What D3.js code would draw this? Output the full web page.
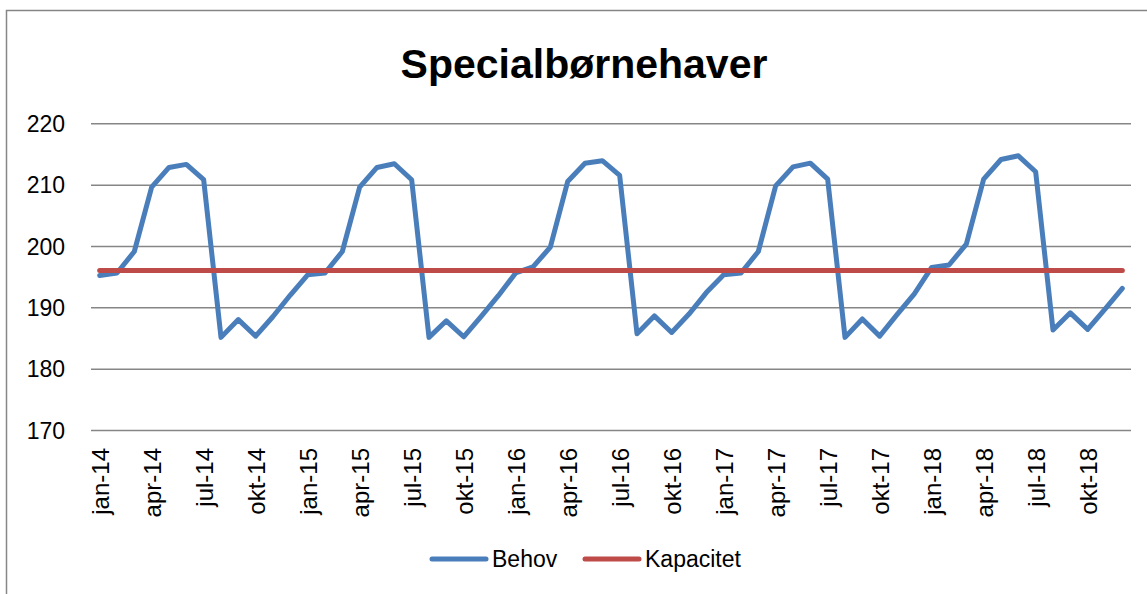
<!DOCTYPE html>
<html>
<head>
<meta charset="utf-8">
<script src="https://cdn.jsdelivr.net/npm/d3@7"></script>
<style>
  body { margin: 0; background: #fff; }
  svg text { font-family: "Liberation Sans", Arial, sans-serif; fill: #000; }
</style>
</head>
<body>
<div id="container"></div>
<script>
// ---------------------------- DATA ----------------------------//
const monthNames = ["jan", "feb", "mar", "apr", "maj", "jun", "jul", "aug", "sep", "okt", "nov", "dec"];
const years = ["14", "15", "16", "17", "18"];
const months = [];
years.forEach(function (y) {
    monthNames.forEach(function (m) { months.push(m + "-" + y); });
});

const behov = [
    195.2, 195.6, 199.1, 209.6, 212.8, 213.3, 210.8, 185.1, 188.0, 185.3, 188.5, 192.0,
    195.3, 195.6, 199.1, 209.6, 212.8, 213.4, 210.8, 185.1, 187.8, 185.2, 188.5, 191.9,
    195.6, 196.6, 199.8, 210.5, 213.5, 213.9, 211.5, 185.7, 188.6, 185.9, 188.9, 192.4,
    195.3, 195.6, 199.1, 209.8, 212.9, 213.5, 210.9, 185.1, 188.1, 185.3, 188.8, 192.2,
    196.5, 196.9, 200.3, 210.9, 214.1, 214.7, 212.1, 186.3, 189.1, 186.4, 189.7, 193.1
];
const kapacitet = months.map(function () { return 196; });

const yTicks = [170, 180, 190, 200, 210, 220];
const seriesNames = ["Behov", "Kapacitet"];
const seriesColors = ["#4a7ebb", "#be4b48"];

// ---------------------------- SVG ----------------------------//
const width = 1147, height = 594;
const plotLeft = 91, plotRight = 1131, plotTop = 123.3, plotBottom = 430;

const svg = d3.select("#container").append("svg")
    .attr("width", width)
    .attr("height", height);

// outer chart border
svg.append("rect")
    .attr("x", 6.5).attr("y", 10.5)
    .attr("width", width + 20).attr("height", height + 20)
    .attr("fill", "#fff")
    .attr("stroke", "#868686")
    .attr("stroke-width", 1.5);

// --------------------------- SCALES ---------------------------//
const x = d3.scalePoint().domain(months).range([plotLeft, plotRight]).padding(0.5);
const y = d3.scaleLinear().domain([170, 220]).range([plotBottom, plotTop]);

// ---------------------------- AXES ----------------------------//
const yAxis = svg.append("g")
    .attr("transform", "translate(" + plotLeft + ",0)")
    .call(d3.axisLeft(y).tickValues(yTicks).tickSize(-(plotRight - plotLeft)).tickPadding(26));
yAxis.select(".domain").remove();
yAxis.selectAll(".tick line").attr("stroke", "#868686").attr("stroke-width", 1.5);
yAxis.selectAll(".tick text")
    .style("font-size", "23px")
    .attr("dy", "0.36em");

const xAxis = svg.append("g")
    .attr("transform", "translate(0," + plotBottom + ")")
    .call(d3.axisBottom(x)
        .tickValues(months.filter(function (d, i) { return i % 3 === 0; }))
        .tickSize(0));
xAxis.select(".domain").remove();
xAxis.selectAll(".tick text")
    .style("font-size", "24px")
    .attr("transform", "rotate(-90)")
    .attr("text-anchor", "end")
    .attr("x", -18)
    .attr("y", 0)
    .attr("dy", "0.36em");

// ---------------------------- LINES ----------------------------//
const line = d3.line()
    .x(function (d, i) { return x(months[i]); })
    .y(function (d) { return y(d); });

[behov, kapacitet].forEach(function (values, i) {
    svg.append("path")
        .datum(values)
        .attr("fill", "none")
        .attr("stroke", seriesColors[i])
        .attr("stroke-width", 5)
        .attr("stroke-linejoin", "round")
        .attr("stroke-linecap", "round")
        .attr("d", line);
});

// ---------------------------- TITLE ----------------------------//
svg.append("text")
    .attr("x", 584)
    .attr("y", 78)
    .attr("text-anchor", "middle")
    .style("font-size", "41px")
    .style("font-weight", "bold")
    .text("Specialbørnehaver");

// ---------------------------- LEGEND ----------------------------//
const legendX = [432, 585];
const legend = svg.selectAll(".legend")
    .data(seriesNames)
    .enter()
    .append("g")
    .attr("class", "legend")
    .attr("transform", function (d, i) { return "translate(" + legendX[i] + ",559)"; });

legend.append("line")
    .attr("x1", 0).attr("x2", 54)
    .attr("y1", 0).attr("y2", 0)
    .attr("stroke", function (d, i) { return seriesColors[i]; })
    .attr("stroke-width", 5)
    .attr("stroke-linecap", "round");

legend.append("text")
    .attr("x", 60)
    .attr("y", 0)
    .attr("dy", "0.36em")
    .style("font-size", "23px")
    .text(function (d) { return d; });
</script>
</body>
</html>
